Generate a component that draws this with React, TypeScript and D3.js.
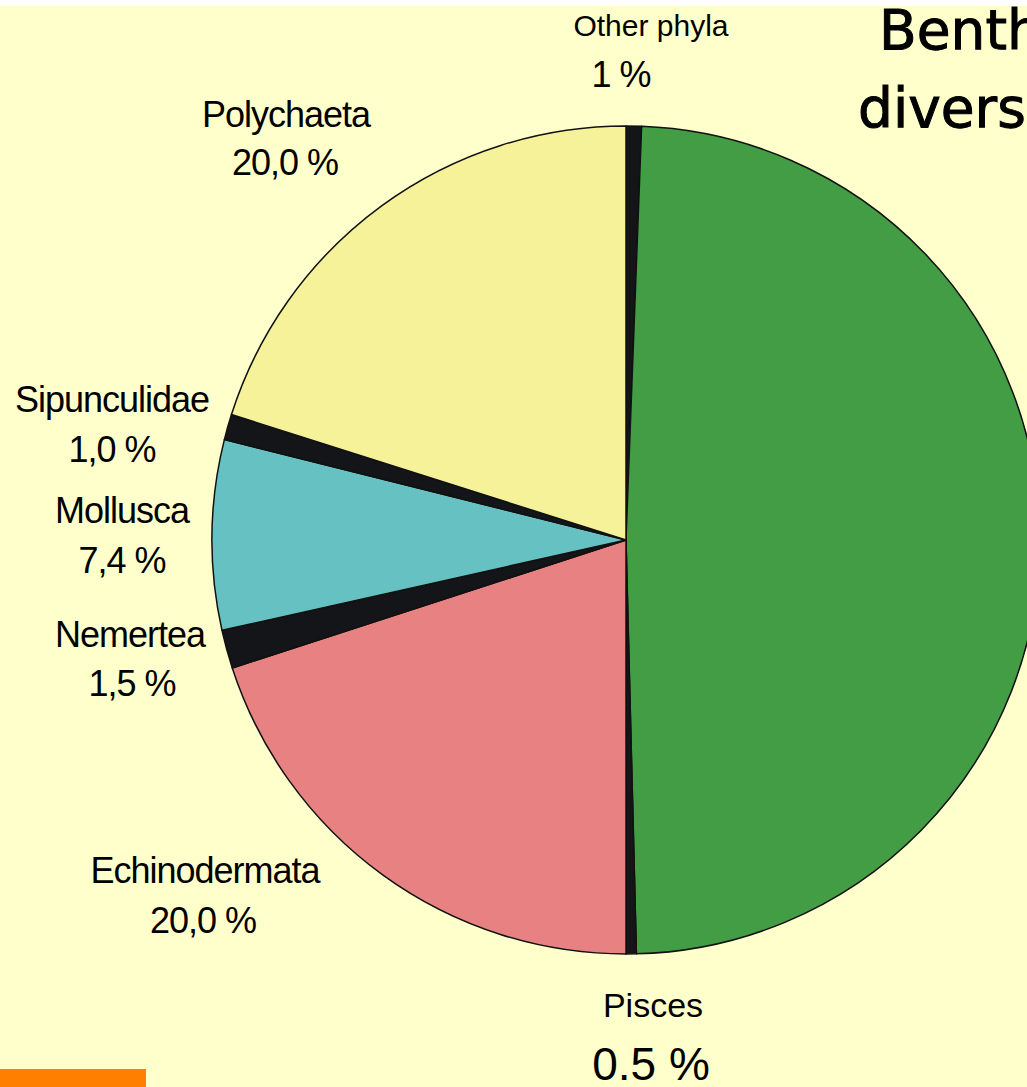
import React from "react";
import * as d3 from "d3";

const categories = ["Other phyla", "Main group", "Pisces", "Echinodermata", "Nemertea", "Mollusca", "Sipunculidae", "Polychaeta"];
const shares = [0.6, 49.0, 0.4, 20.0, 1.5, 7.4, 1.0, 20.1];
const colors = ["#141518", "#429D44", "#141518", "#E88282", "#141518", "#66C2C2", "#141518", "#F5F29A"];

const labelNames = ["Other phyla", "Pisces", "Echinodermata", "Nemertea", "Mollusca", "Sipunculidae", "Polychaeta"];
const labelPercents = ["1 %", "0.5 %", "20,0 %", "1,5 %", "7,4 %", "1,0 %", "20,0 %"];
const labelPos = [
  [651, 36, 621, 87, 30, 36],
  [653, 1017, 651, 1080, 34, 46],
  [205, 883, 203, 933, 36, 36],
  [130, 647, 132, 696, 36, 36],
  [122, 523, 122, 573, 36, 36],
  [112, 412, 112, 462, 36, 36],
  [286, 127, 285, 175, 36, 36],
];
const titleLines = ["Benthic", "diversity"];

export default function App() {
  const W = 1027, H = 1087;
  const cx = 626, cy = 540, r = 414;
  const pie = d3.pie<number>().sort(null).value((d) => d).startAngle(0).endAngle(2 * Math.PI);
  const arcs = pie(shares);
  const arcGen = d3.arc<d3.PieArcDatum<number>>().innerRadius(0).outerRadius(r);
  const font = "'Liberation Sans', Arial, sans-serif";
  return (
    <svg width={W} height={H} style={{ position: "absolute", left: 0, top: 0, display: "block" }}>
      <rect x={0} y={0} width={W} height={H} fill="#ffffff" />
      <rect x={0} y={6} width={W} height={H - 6} fill="#FFFFCC" />
      <g transform={`translate(${cx},${cy})`}>
        {arcs.map((a, i) => (
          <path key={categories[i]} d={arcGen(a) || ""} fill={colors[i]} stroke="#111" strokeWidth={1.5} strokeLinejoin="round" />
        ))}
      </g>
      {labelNames.map((n, i) => {
        const [nx, ny, px, py, ns, ps] = labelPos[i];
        return (
          <g key={n} fontFamily={font} fill="#000" textAnchor="middle">
            <text x={nx} y={ny} fontSize={ns} letterSpacing={ns >= 36 ? -1 : 0}>{n}</text>
            <text x={px} y={py} fontSize={ps} letterSpacing={ps === 36 ? -1 : 0}>{labelPercents[i]}</text>
          </g>
        );
      })}
      <g fontFamily="'Comic Sans MS', 'DejaVu Sans', sans-serif" fontSize={55} fill="#000" stroke="#000" strokeWidth={1}>
        <text x={879} y={49}>{titleLines[0]}</text>
        <text x={858} y={127}>{titleLines[1]}</text>
      </g>
      <rect x={0} y={1069} width={146} height={18} fill="#FF8000" />
    </svg>
  );
}
